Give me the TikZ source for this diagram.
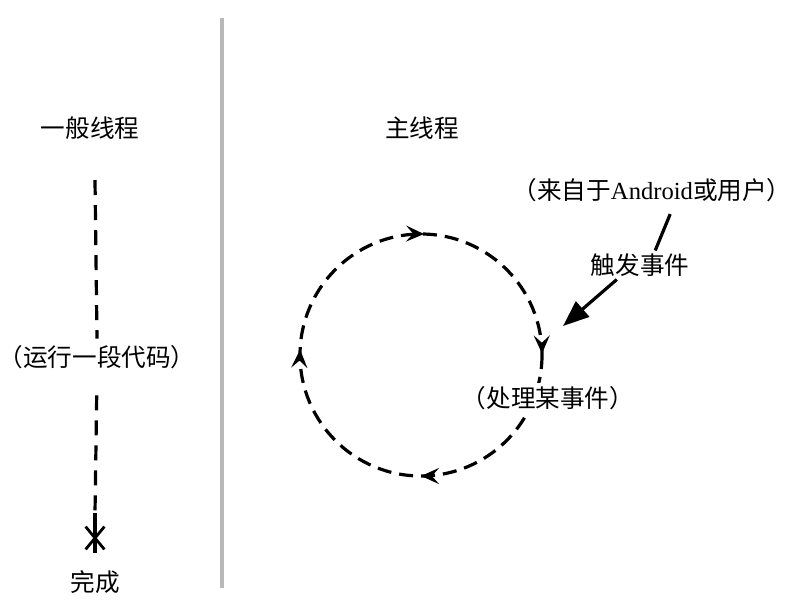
\documentclass[tikz,border=0pt]{standalone}
\usepackage{fontspec}
\setmainfont{Liberation Serif}
\newfontfamily\cjk{Noto Sans CJK SC}
\usetikzlibrary{arrows.meta}
\usetikzlibrary{decorations.markings}
\usetikzlibrary{shapes.misc}

\begin{document}
\begin{tikzpicture}[x=0.025cm,y=-0.025cm,
  txt/.style={font=\cjk\fontsize{17.5}{21}\selectfont,inner sep=2pt},
  run/.style={line width=0.08cm,dash pattern=on 0.375cm off 0.25cm},
  loopline/.style={line width=0.08cm,dash pattern=on 0.35cm off 0.2cm},
  feed/.style={line width=0.08cm},
  looptip/.tip={Stealth[length=4.5mm,width=4mm,inset=1.8mm]}]
\useasboundingbox (0,0) rectangle (800,607);
\draw[black!28,line width=0.1cm] (222,18) -- (222,588);

\node[txt] (plain) at (90,128) {一般线程};
\node[txt,fill=white,minimum height=0.9cm] (code) at (97,357) {（运行一段代码）};
\node[txt] (done) at (95,582) {完成};
\coordinate (start) at (95,180);
\coordinate (stop) at (95,513);
\draw[run] (start) -- (code.north);
\draw[run,shorten <=5mm] (code.south) -- (stop);
\draw[line width=0.08cm] (stop) -- ++(0,40);
\node[cross out,draw,line width=0.07cm,inner sep=0pt,minimum width=0.4cm,minimum height=0.5cm] (endmark) at (95,538) {};

\node[txt] (mainthr) at (422,128) {主线程};
\coordinate (hub) at (421,355);
\draw[loopline,postaction={decorate},decoration={markings,
  mark=at position 0.25 with {\arrow[solid]{looptip}},
  mark=at position 0.507 with {\arrow[solid]{looptip}},
  mark=at position 0.754 with {\arrow[solid]{looptip}},
  mark=at position 0.998 with {\arrow[solid]{looptip}}}] (hub) circle[radius=121];
\node[txt,fill=white] (handle) at (548,398) {（处理某事件）};

\node[txt] (src) at (652,190) {（来自于{\rmfamily Android}或用户）};
\node[txt] (trig) at (640,265) {触发事件};
\coordinate (hit) at (563,326);
\draw[feed,shorten <=2.5mm] ([xshift=5.5mm]src.south) -- ([xshift=3.8mm]trig.north);
\draw[feed,-{Triangle[length=6.5mm,width=5mm]}] ([xshift=-5.8mm]trig.south) -- (hit);

\end{tikzpicture}
\end{document}
